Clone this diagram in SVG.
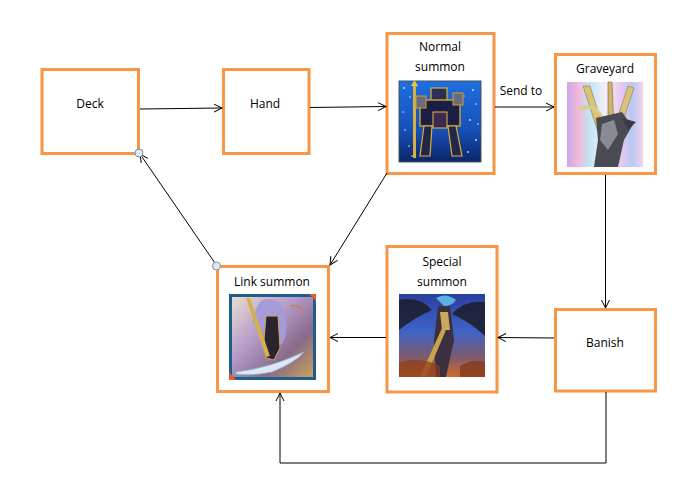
<svg xmlns="http://www.w3.org/2000/svg" width="693" height="499" viewBox="0 0 693 499">
<defs>
<style>
.box{fill:#ffffff;stroke:#F79646;stroke-width:3}
.lbl{font-family:"Open Sans","Liberation Sans",sans-serif;font-size:12px;fill:#000;text-anchor:middle}
.con{fill:none;stroke:#000;stroke-width:1}
.pin{fill:#dcebf2;stroke:#7f8f99;stroke-width:1}
</style>
<marker id="arr" markerWidth="10" markerHeight="10" refX="9" refY="5" orient="auto" markerUnits="userSpaceOnUse">
<path d="M1,1 L9,5 L1,9" fill="none" stroke="#000" stroke-width="1"/>
</marker>
<linearGradient id="gNormal" x1="0" y1="0" x2="0" y2="1">
<stop offset="0" stop-color="#1f6fe0"/><stop offset="0.6" stop-color="#1750b8"/><stop offset="1" stop-color="#0b2566"/>
</linearGradient>
<linearGradient id="gGrave" x1="0" y1="0" x2="1" y2="0">
<stop offset="0" stop-color="#c9a8e8"/><stop offset="0.15" stop-color="#f2b8d8"/><stop offset="0.3" stop-color="#bfe6f5"/><stop offset="0.5" stop-color="#f3eef7"/><stop offset="0.7" stop-color="#e9c9f0"/><stop offset="0.85" stop-color="#b8c8f2"/><stop offset="1" stop-color="#f2d4ec"/>
</linearGradient>
<linearGradient id="gLink" x1="0" y1="0" x2="1" y2="1">
<stop offset="0" stop-color="#e9ddd0"/><stop offset="0.4" stop-color="#b39ac8"/><stop offset="0.7" stop-color="#8a6a8a"/><stop offset="1" stop-color="#c9a25a"/>
</linearGradient>
<linearGradient id="gSpecial" x1="0" y1="0" x2="0" y2="1">
<stop offset="0" stop-color="#2a3f9e"/><stop offset="0.45" stop-color="#3f63c8"/><stop offset="0.75" stop-color="#7a5a70"/><stop offset="1" stop-color="#d06a2a"/>
</linearGradient>
</defs>

<g id="deck">
<rect class="box" x="42" y="69.5" width="96.5" height="84"/>
<text class="lbl" x="90" y="108">Deck</text>
</g>

<g id="hand">
<rect class="box" x="223.5" y="69.5" width="85.5" height="84"/>
<text class="lbl" x="265" y="108">Hand</text>
</g>

<g id="normal-summon">
<rect class="box" x="387" y="33.5" width="107" height="140"/>
<text class="lbl" x="440" y="51">Normal</text>
<text class="lbl" x="440" y="71">summon</text>
<rect x="399" y="81" width="82" height="81" fill="url(#gNormal)" stroke="#4a5260" stroke-width="1"/>
<g fill="#ffffff" opacity="0.85">
<circle cx="404" cy="88" r="0.9"/><circle cx="410" cy="97" r="0.8"/><circle cx="473" cy="90" r="0.9"/><circle cx="476" cy="104" r="0.8"/><circle cx="470" cy="120" r="0.9"/><circle cx="405" cy="130" r="0.8"/><circle cx="476" cy="140" r="0.9"/><circle cx="409" cy="146" r="0.8"/><circle cx="468" cy="152" r="0.9"/><circle cx="403" cy="112" r="0.8"/><circle cx="478" cy="124" r="0.8"/><circle cx="412" cy="156" r="0.8"/><circle cx="464" cy="96" r="0.7"/><circle cx="416" cy="86" r="0.7"/>
</g>
<path d="M413,84 L416,84 L416,158 L413,158 Z" fill="#d8b23a"/>
<path d="M411,86 L418,86 L414.5,80 Z" fill="#e6c84a"/>
<rect x="431" y="88" width="16" height="14" fill="#2a2f5a" stroke="#d8b23a" stroke-width="1.2"/>
<rect x="420" y="100" width="40" height="26" fill="#1b1f45" stroke="#c9a22e" stroke-width="1.5"/>
<rect x="416" y="96" width="10" height="12" fill="#6a6a80" stroke="#c9a22e"/>
<rect x="453" y="93" width="10" height="12" fill="#6a6a80" stroke="#c9a22e"/>
<path d="M424,126 L432,126 L430,156 L420,156 Z" fill="#222648" stroke="#d8b23a" stroke-width="1.2"/>
<path d="M448,126 L456,126 L462,156 L452,156 Z" fill="#222648" stroke="#d8b23a" stroke-width="1.2"/>
<rect x="433" y="112" width="14" height="16" fill="#3a2a50" stroke="#e0b840"/>
</g>

<g id="graveyard">
<rect class="box" x="555.5" y="54.5" width="100" height="119"/>
<text class="lbl" x="605" y="73">Graveyard</text>
<rect x="567" y="82" width="76" height="85" fill="url(#gGrave)"/>
<path d="M583,86 L590,86 L604,130 L598,132 Z" fill="#d9c27a" stroke="#8a7a40" stroke-width="0.6"/>
<path d="M608,82 L612,82 L614,128 L608,128 Z" fill="#cdb46a" stroke="#7a6a30" stroke-width="0.6"/>
<path d="M628,86 L634,88 L620,130 L614,128 Z" fill="#d9c27a" stroke="#8a7a40" stroke-width="0.6"/>
<path d="M578,110 Q596,100 604,122" fill="none" stroke="#e0cc86" stroke-width="3"/>
<path d="M596,118 L622,112 L632,126 L624,140 L618,167 L594,167 L598,140 Z" fill="#4a4a52"/>
<path d="M602,124 L614,120 L618,134 L608,150 L600,140 Z" fill="#8a8a94"/>
<path d="M622,118 L636,122 L628,130 Z" fill="#3a3a40"/>
</g>

<g id="banish">
<rect class="box" x="555.5" y="309.5" width="100" height="81.5"/>
<text class="lbl" x="605" y="347">Banish</text>
</g>

<g id="special-summon">
<rect class="box" x="387" y="246.5" width="110" height="145.5"/>
<text class="lbl" x="442" y="266">Special</text>
<text class="lbl" x="442" y="286">summon</text>
<rect x="399" y="294" width="86" height="83" fill="url(#gSpecial)"/>
<path d="M399,300 Q420,296 432,310 Q414,318 399,330 Z" fill="#1c1c2a" opacity="0.85"/>
<path d="M485,302 Q464,300 452,314 Q470,322 485,336 Z" fill="#1c1c2a" opacity="0.85"/>
<path d="M436,298 Q446,292 456,300 Q452,306 444,306 Z" fill="#5ab0e0"/>
<path d="M438,306 L450,306 L454,340 L446,377 L436,377 L434,340 Z" fill="#3a3040"/>
<path d="M440,312 L448,312 L450,330 L442,330 Z" fill="#c9a860"/>
<path d="M420,377 L426,377 L446,330 L442,328 Z" fill="#c9a24a"/>
<path d="M399,362 Q420,356 440,366 L440,377 L399,377 Z" fill="#8a3a1a" opacity="0.7"/>
<path d="M460,366 Q474,358 485,362 L485,377 L460,377 Z" fill="#7a3418" opacity="0.7"/>
</g>

<g id="link-summon">
<rect class="box" x="217.5" y="266.5" width="111" height="125"/>
<text class="lbl" x="272" y="286">Link summon</text>
<rect x="229" y="294" width="87" height="86" fill="#1e5d8c"/>
<rect x="232" y="297" width="81" height="80" fill="url(#gLink)"/>
<path d="M262,300 Q280,296 284,312 Q290,330 282,344 L272,346 Q262,330 252,322 Q256,306 262,300 Z" fill="#a69ad8"/>
<path d="M266,316 L278,316 L280,348 L274,360 L266,358 L264,340 Z" fill="#2a2430" stroke="#d2a84a" stroke-width="1"/>
<path d="M246,298 L250,298 L270,356 L266,357 Z" fill="#d8b04a"/>
<path d="M236,372 Q270,368 304,352 Q296,362 272,372 Q252,376 236,374 Z" fill="#dce8f4" stroke="#8fb4d8" stroke-width="0.8"/>
<path d="M290,306 Q300,304 304,312" fill="none" stroke="#d07a4a" stroke-width="1.2"/>
<path d="M229,372 L236,380 L229,380 Z" fill="#e0602a"/>
<path d="M316,294 L309,294 L316,301 Z" fill="#e0602a"/>
</g>

<g id="connectors">
<line class="con" x1="140" y1="109" x2="222" y2="108" marker-end="url(#arr)"/>
<line class="con" x1="310" y1="107.5" x2="386" y2="106.5" marker-end="url(#arr)"/>
<line class="con" x1="495" y1="107" x2="554" y2="107" marker-end="url(#arr)"/>
<text class="lbl" x="521" y="95">Send to</text>
<line class="con" x1="605.5" y1="175" x2="605.5" y2="308" marker-end="url(#arr)"/>
<line class="con" x1="554" y1="338" x2="498" y2="337.5" marker-end="url(#arr)"/>
<line class="con" x1="386" y1="337.5" x2="330" y2="337.5" marker-end="url(#arr)"/>
<polyline class="con" points="606,392 606,463 280,463 280,393" marker-end="url(#arr)"/>
<line class="con" x1="387" y1="173" x2="330" y2="265" marker-end="url(#arr)"/>
<line class="con" x1="217" y1="266" x2="140" y2="154" marker-end="url(#arr)"/>
<circle class="pin" cx="139" cy="153" r="4"/>
<circle class="pin" cx="216.5" cy="266" r="4"/>
</g>
</svg>
